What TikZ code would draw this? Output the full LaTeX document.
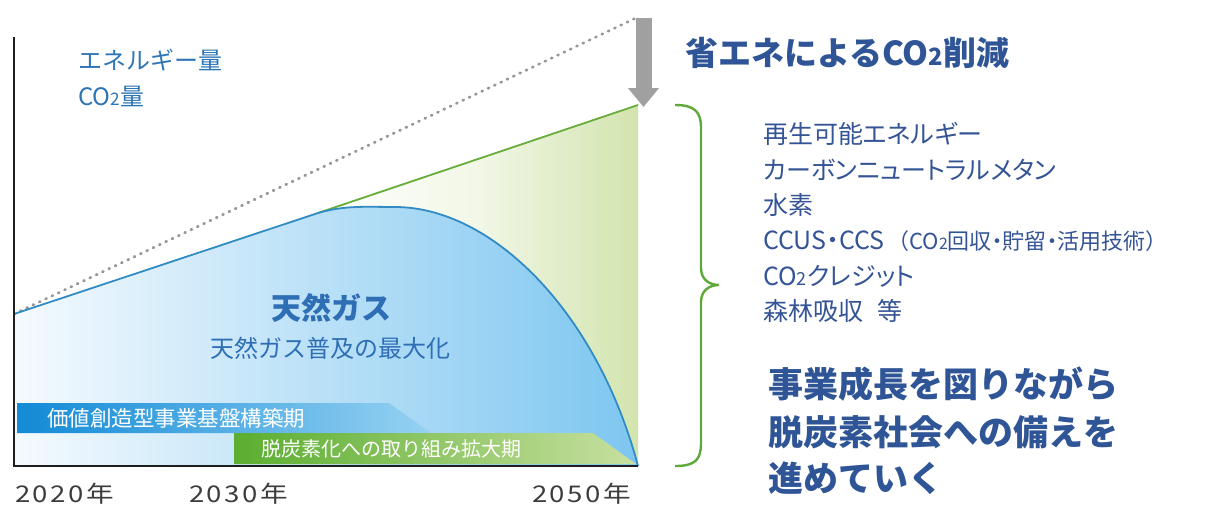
\documentclass[tikz,border=0pt]{standalone}
\usepackage{fontspec}
\setmainfont{Noto Sans CJK JP}
\usepackage{graphicx}
\usetikzlibrary{arrows.meta}
\definecolor{axisblack}{RGB}{30,30,30}
\definecolor{dotgray}{RGB}{150,150,150}
\definecolor{arrgray}{RGB}{160,160,160}
\definecolor{lblblue}{RGB}{46,117,182}
\definecolor{gasblue}{RGB}{46,110,180}
\definecolor{curveblue}{RGB}{50,140,195}
\definecolor{fillblueR}{RGB}{125,198,240}
\definecolor{fillblueL}{RGB}{245,250,254}
\definecolor{linegreen}{RGB}{104,172,60}
\definecolor{fillgreenR}{RGB}{210,228,174}
\definecolor{bracegreen}{RGB}{95,168,58}
\definecolor{navy}{RGB}{47,85,151}
\definecolor{listblue}{RGB}{52,84,150}
\definecolor{barblueL}{RGB}{18,138,214}
\definecolor{barblueR}{RGB}{150,210,242}
\definecolor{bargreenL}{RGB}{90,174,48}
\definecolor{bargreenR}{RGB}{200,224,160}
\definecolor{yeargray}{RGB}{60,60,60}
\newcommand\fsz[1]{\fontsize{#1}{#1}\selectfont}
\newcommand\cotwo{CO\scalebox{0.72}{2}}
\newcommand\palt{\addfontfeature{RawFeature=+palt}}
\newcommand\yr[1]{\scalebox{1.2}[1]{#1}}
\begin{document}
\begin{tikzpicture}[x=1pt,y=-1pt,
  lbl/.style={anchor=west,inner sep=0pt,text=lblblue,font=\fsz{24}},
  listtxt/.style={anchor=west,inner sep=0pt,text=listblue,font=\fsz{25}\palt},
  bigtxt/.style={anchor=west,inner sep=0pt,text=navy,font=\fsz{35}\bfseries},
  yeartxt/.style={anchor=west,inner sep=0pt,text=yeargray,font=\fsz{23}\addfontfeature{LetterSpace=9}},
  bartxt/.style={anchor=west,inner sep=0pt,text=white,font=\fsz{20}},
  axisline/.style={draw=axisblack,line width=2.6pt},
]
\useasboundingbox (0,0) rectangle (1222,506);
% key coordinates
\coordinate (ytop) at (14,37);
\coordinate (O) at (14,466);
\coordinate (xend) at (638,466);
\coordinate (start) at (14,314);
\coordinate (split) at (318,213);
\coordinate (peak) at (395,207);
\coordinate (greenend) at (638,105);
\coordinate (dotend) at (638,17);
\coordinate (arrtop) at (643.5,18);
\coordinate (arrtip) at (643.5,107);
% green region
\shade[left color=white,right color=fillgreenR,middle color=white!70!fillgreenR]
  (split) -- (greenend) -- (xend) -- (318,466) -- cycle;
% blue region
\shade[left color=fillblueL,right color=fillblueR]
  (start) -- (split) .. controls (345,205) and (368,207) .. (peak)
  .. controls (492,207) and (597,312) .. (xend) -- (O) -- cycle;
% bars
\shade[left color=barblueL,right color=barblueR]
  (17,403) -- (389,403) -- (431,433) -- (17,433) -- cycle;
\shade[left color=bargreenL,right color=bargreenR]
  (234,433) -- (593,433) -- (636,464) -- (234,464) -- cycle;
\node[bartxt,font=\fsz{21.5}] (bar1) at (47,418) {価値創造型事業基盤構築期};
\node[bartxt] (bar2) at (261,449) {脱炭素化への取り組み拡大期};
% dotted line
\draw[dotgray,line width=2.8pt,line cap=round,dash pattern=on 1pt off 6pt] (start) -- (dotend);
% green line
\draw[linegreen,line width=1.8pt] (split) -- (greenend);
% blue curve
\draw[curveblue,line width=1.8pt] (start) -- (split) .. controls (345,205) and (368,207) .. (peak)
  .. controls (492,207) and (597,312) .. (xend);
% axes
\draw[axisline] (ytop) -- (O) -- (xend);
% gray arrow
\draw[arrgray,line width=16pt,-{Triangle[length=19pt,width=30pt]}] (arrtop) -- (arrtip);
% brace
\draw[bracegreen,line width=2.4pt]
  (675,105) .. controls (695,105) and (701,112) .. (701,128) -- (701,268)
  .. controls (701,280) and (710,285) .. (719,285)
  .. controls (710,285) and (701,290) .. (701,302) -- (701,443)
  .. controls (701,460) and (695,466) .. (675,466);
% left labels
\node[lbl] (energy) at (78,60) {エネルギー量};
\node[lbl] (co2amt) at (78,96) {\cotwo 量};
\node[anchor=center,inner sep=0pt,text=gasblue,font=\fsz{30}\bfseries] (gas) at (331,308) {天然ガス};
\node[anchor=center,inner sep=0pt,text=gasblue,font=\fsz{24}] (gassub) at (330,348) {天然ガス普及の最大化};
% years
\node[yeartxt] (y2020) at (15,494) {\yr{2020年}};
\node[yeartxt] (y2030) at (189,494) {\yr{2030年}};
\node[yeartxt] (y2050) at (532,494) {\yr{2050年}};
% right side
\node[anchor=west,inner sep=0pt,text=navy,font=\fsz{33}\bfseries] (save) at (685,53) {省エネによる\cotwo 削減};
\node[listtxt] (l1) at (763,134) {再生可能エネルギー};
\node[listtxt] (l2) at (763,170) {カーボンニュートラルメタン};
\node[listtxt] (l3) at (763,205) {水素};
\node[listtxt] (l4) at (763,241) {CCUS・CCS\hspace{3pt}{\fsz{22}\addfontfeature{RawFeature=-palt}（}{\fsz{22}\cotwo 回収・貯留・活用技術）}};
\node[listtxt] (l5) at (763,276) {\cotwo クレジット};
\node[listtxt] (l6) at (763,311) {森林吸収\hspace{14pt}等};
\node[bigtxt] (b1) at (768,384) {事業成長を図りながら};
\node[bigtxt] (b2) at (768,432) {脱炭素社会への備えを};
\node[bigtxt] (b3) at (768,478) {進めていく};
\end{tikzpicture}
\end{document}
